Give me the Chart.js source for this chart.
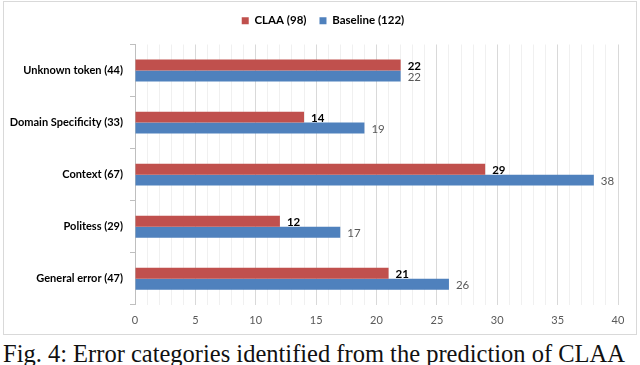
<!DOCTYPE html>
<html>
<head>
<meta charset="utf-8">
<script src="https://cdn.jsdelivr.net/npm/chart.js@4/dist/chart.umd.min.js"></script>
<style>
  html, body { margin: 0; padding: 0; background: #fff; width: 640px; height: 365px; overflow: hidden; }
  #frame { position: absolute; left: 3px; top: 1px; width: 632px; height: 332px; border: 1px solid #d9d9d9; }
  #wrap { position: absolute; left: 0; top: 0; width: 640px; height: 336px; }
  #caption { position: absolute; left: 3px; top: 342px; font-family: "Liberation Serif", "Times New Roman", serif; font-size: 24.5px; line-height: 24.5px; white-space: nowrap; color: #111; }
</style>
</head>
<body>
<div id="frame"></div>
<div id="wrap"><canvas id="c" width="640" height="336"></canvas></div>
<div id="caption">Fig. 4: Error categories identified from the prediction of CLAA</div>
<script>
const categories = ["Unknown token (44)", "Domain Specificity (33)", "Context (67)", "Politess (29)", "General error (47)"];
const seriesNames = ["CLAA (98)", "Baseline (122)"];
const claaValues = [22, 14, 29, 12, 21];
const baselineValues = [22, 19, 38, 17, 26];
const xTicks = [0, 5, 10, 15, 20, 25, 30, 35, 40];

const FONT = "Lato, 'Open Sans', sans-serif";

const valueLabels = {
  id: 'valueLabels',
  afterDatasetsDraw(chart) {
    const ctx = chart.ctx;
    ctx.save();
    chart.data.datasets.forEach((ds, di) => {
      const meta = chart.getDatasetMeta(di);
      meta.data.forEach((bar, i) => {
        ctx.font = (di === 0 ? 'bold ' : '') + '11.5px ' + FONT;
        ctx.fillStyle = di === 0 ? '#000000' : '#595959';
        ctx.textAlign = 'left';
        ctx.textBaseline = 'middle';
        ctx.fillText(String(ds.data[i]), bar.x + 7, bar.y + 1);
      });
    });
    ctx.restore();
  }
};

const legendShift = {
  id: 'legendShift',
  afterLayout(chart) {
    const lg = chart.legend;
    if (!lg) return;
    lg.left += 14; lg.right += 14;
    lg.top -= 8; lg.bottom -= 8;
  }
};

new Chart(document.getElementById('c'), {
  type: 'bar',
  data: {
    labels: categories,
    datasets: [
      { label: seriesNames[0], data: claaValues, backgroundColor: '#C0504D', borderWidth: 0,
        categoryPercentage: 0.42, barPercentage: 1.0 },
      { label: seriesNames[1], data: baselineValues, backgroundColor: '#4F81BD', borderWidth: 0,
        categoryPercentage: 0.42, barPercentage: 1.0 }
    ]
  },
  options: {
    indexAxis: 'y',
    responsive: false,
    animation: false,
    layout: { padding: { top: 10, right: 22, bottom: 0, left: 0 } },
    plugins: {
      legend: {
        position: 'top',
        align: 'center',
        labels: {
          boxWidth: 7, boxHeight: 7, padding: 13,
          color: '#000', font: { family: FONT, size: 11.5, weight: 'bold' }
        }
      },
      tooltip: { enabled: false }
    },
    scales: {
      x: {
        min: 0, max: 40,
        afterBuildTicks(scale) {
          const t = [];
          for (let v = 0; v <= 40; v++) t.push({ value: v });
          scale.ticks = t;
        },
        ticks: {
          autoSkip: false, maxRotation: 0, padding: 9,
          color: '#595959', font: { family: FONT, size: 11 },
          callback: (v) => xTicks.includes(v) ? String(v) : ''
        },
        grid: {
          drawTicks: false,
          color: (c) => (c.tick && c.tick.value % 5 === 0) ? '#d9d9d9' : '#f0f0f0',
          lineWidth: 1
        },
        border: { display: false }
      },
      y: {
        afterFit(scale) { scale.width = 135; },
        ticks: {
          padding: 7, color: '#000', font: { family: FONT, size: 11, weight: 'bold' }
        },
        grid: { offset: true, drawOnChartArea: false, drawTicks: true, tickLength: 5, color: '#bfbfbf' },
        border: { display: true, color: '#bfbfbf' }
      }
    }
  },
  plugins: [valueLabels, legendShift]
});
</script>
</body>
</html>
